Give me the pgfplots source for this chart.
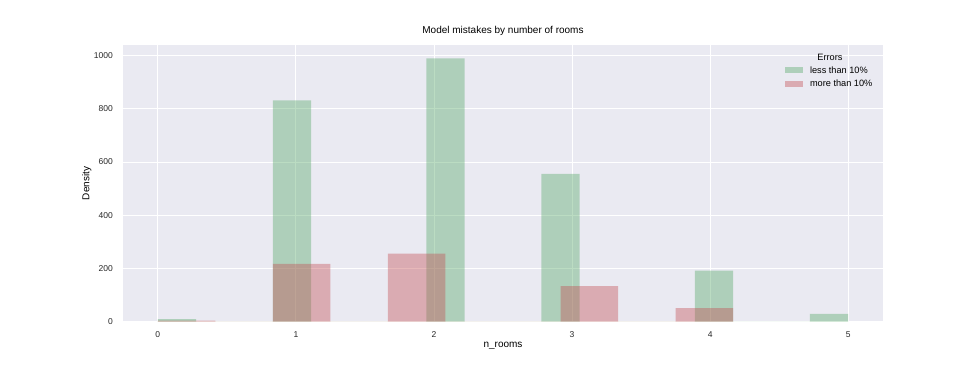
\documentclass[border=0pt]{standalone}
\usepackage{fontspec}
\setmainfont{Liberation Sans}
\usepackage{pgfplots}
\pgfplotsset{compat=1.18}
\definecolor{bgcol}{HTML}{EAEAF2}
\definecolor{sgreen}{HTML}{55A868}
\definecolor{sred}{HTML}{C44E52}
\begin{document}
\begin{tikzpicture}
\path[use as bounding box] (0pt,0pt) rectangle (980pt,368pt);
\begin{axis}[
  at={(123.3pt,46.3pt)}, anchor=south west,
  scale only axis, width=759.4pt, height=276.7pt,
  xmin=-0.25, xmax=5.25, ymin=0, ymax=1040,
  xtick={0,1,2,3,4,5}, ytick={0,200,400,600,800,1000},
  axis background/.style={fill=bgcol},
  axis line style={draw=none},
  major tick length=0pt,
  grid=major, major grid style={white, line width=0.9pt},
  /pgf/number format/assume math mode=true,
  /pgf/number format/1000 sep={},
  scaled y ticks=false,
  tick label style={font=\fontsize{8.5}{10}\selectfont, text=black!85},
  yticklabel style={xshift=-7pt},
  xticklabel style={yshift=-6.5pt},
  title={Model mistakes by number of rooms},
  title style={font=\fontsize{10}{12}\selectfont, at={(axis description cs:0.5,1)}, anchor=center, yshift=8.3pt},
  xlabel={n\_rooms}, ylabel={Density},
  label style={font=\fontsize{10}{12}\selectfont},
  every axis x label/.style={at={(axis description cs:0.5,0)}, anchor=center, yshift=-24pt},
  every axis y label/.style={at={(axis description cs:-0.0482,0.5)}, anchor=center, rotate=90},
  legend style={at={(axis description cs:0.8711,0.927)}, anchor=north west, draw=none, fill=none,
    inner sep=0pt, font=\fontsize{9.2}{10}\selectfont, row sep=3.5pt,
    nodes={inner sep=1pt},
    /tikz/every odd column/.style={column sep=6pt}},
  legend cell align=left,
  legend image code/.code={\fill[#1] (0pt,-3pt) rectangle (18pt,3pt);},
]
\addplot[ybar interval, draw=none, fill=sgreen, fill opacity=0.4] coordinates {
  (0,10) (0.2778,0) (0.8333,832) (1.1111,0) (1.9444,990) (2.2222,0)
  (2.7778,556) (3.0556,0) (3.8889,192) (4.1667,0) (4.7222,29) (5,0)
};
\addlegendentry{less than 10\%}
\addplot[ybar interval, draw=none, fill=sred, fill opacity=0.4] coordinates {
  (0,4) (0.4167,0) (0.8333,217) (1.25,0) (1.6667,256) (2.0833,0)
  (2.9167,134) (3.3333,0) (3.75,51) (4.1667,0)
};
\addlegendentry{more than 10\%}
\node[font=\fontsize{9.2}{10}\selectfont, anchor=center] at (axis description cs:0.9306,0.955) {Errors};
\end{axis}
\end{tikzpicture}
\end{document}
